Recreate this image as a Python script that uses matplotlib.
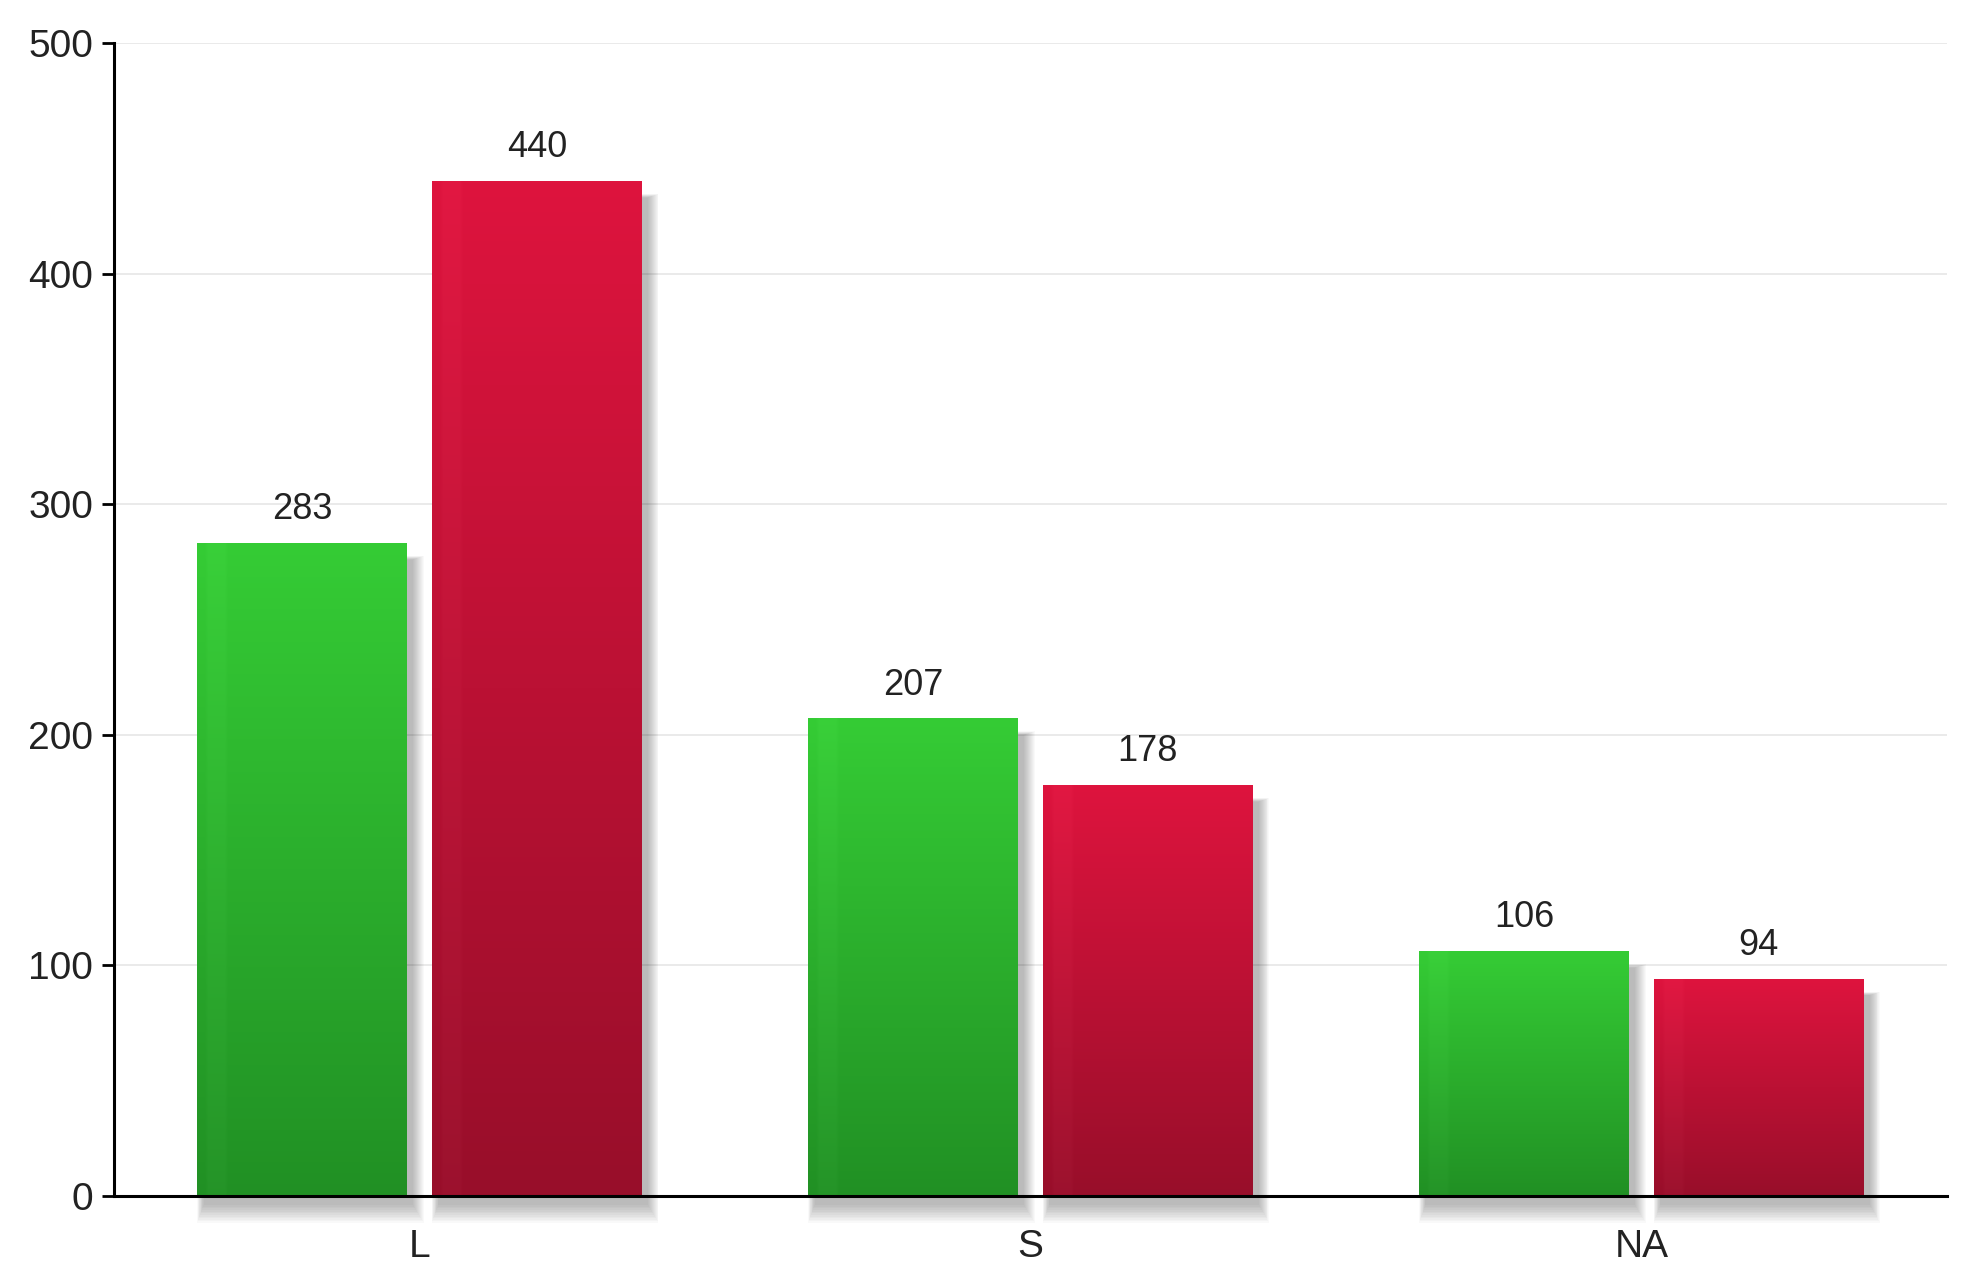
import numpy as np
import matplotlib
matplotlib.use("Agg")
import matplotlib.pyplot as plt
from matplotlib.patches import Rectangle
from matplotlib.colors import to_rgb

categories = ["L", "S", "NA"]
series_a = [283, 207, 106]   # green
series_b = [440, 178, 94]    # red
yticks = [0, 100, 200, 300, 400, 500]

green_top, green_bot = "#35cc35", "#219024"
red_top, red_bot = "#de143e", "#980e2a"

plt.rcParams['font.family'] = ['Liberation Sans', 'DejaVu Sans']

fig = plt.figure(figsize=(19.70, 12.77), dpi=100)
ax = fig.add_axes([0.0579, 0.0634, 0.9304, 0.9029])

width = 0.343
offset = 0.192
x = np.arange(len(categories))

def grad_img(top, bot, n=256, m=64):
    t = np.linspace(0, 1, n)[:, None]
    c0 = np.array(to_rgb(top)); c1 = np.array(to_rgb(bot))
    img = c0[None, None, :] * (1 - t[..., None]) + c1[None, None, :] * t[..., None]
    img = np.repeat(img, m, axis=1)
    cols = np.linspace(0, 1, m)
    stripe = np.where((cols > 0.04) & (cols < 0.13), 0.015, 0.0)
    img = np.clip(img + stripe[None, :, None], 0, 1)
    return img

def draw_bar(xc, h, top, bot):
    x0, x1 = xc - width / 2, xc + width / 2
    # soft shadow, offset right/down
    n = 12
    for i in range(n):
        d = i * 0.0016
        dy = i * 0.7
        ax.add_patch(Rectangle((x0 + 0.010 - d * 0.6, -4 - dy), width + d * 1.6, h - 3 + dy * 1.2,
                               facecolor="black", alpha=0.022, edgecolor="none",
                               zorder=1.5, clip_on=False))
    ax.imshow(grad_img(top, bot), extent=(x0, x1, 0, h), aspect="auto",
              origin="upper", zorder=2, interpolation="bilinear")
    ax.text(xc, h + 7, str(h), ha="center", va="bottom", fontsize=26, color="#222222", zorder=3)

for i in range(len(categories)):
    draw_bar(x[i] - offset, series_a[i], green_top, green_bot)
    draw_bar(x[i] + offset, series_b[i], red_top, red_bot)

ax.set_xlim(-0.5, 2.5)
ax.set_ylim(0, 500)
ax.set_yticks(yticks)
ax.set_yticklabels([str(v) for v in yticks], fontsize=28, color="#222222")
ax.set_xticks(x)
ax.set_xticklabels(categories, fontsize=28, color="#222222")
ax.tick_params(axis="x", length=0, pad=24)
ax.tick_params(axis="y", length=9, width=2, direction="out", pad=6)
for yv in yticks[1:]:
    ax.axhline(yv, color="#e6e6e6", lw=1.2, zorder=0)
for s in ["top", "right"]:
    ax.spines[s].set_visible(False)
ax.spines["left"].set_linewidth(2.2)
ax.spines["bottom"].set_linewidth(2.2)
ax.spines["left"].set_zorder(4)
ax.spines["bottom"].set_zorder(4)
ax.set_facecolor("white")

fig.savefig("out.png", dpi=100, facecolor="white")
